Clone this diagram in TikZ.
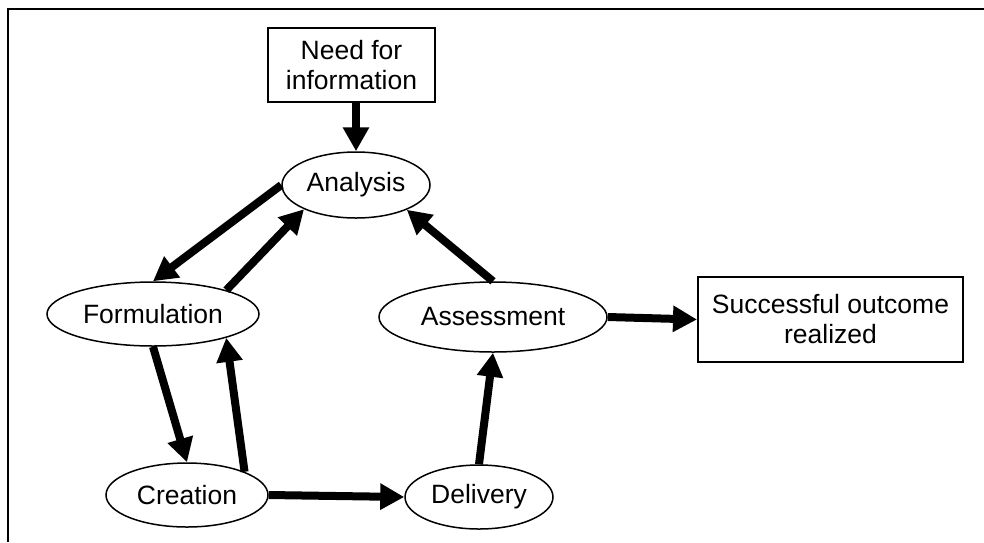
\documentclass[tikz,border=0pt]{standalone}
\usepackage{fontspec}
\setmainfont{Liberation Sans}
\usetikzlibrary{positioning,shapes.geometric,arrows.meta}

\begin{document}
\begin{tikzpicture}[
    x=1pt, y=-1pt,
    every node/.style={font=\fontsize{26.5}{30}\selectfont},
    stagenode/.style={ellipse, draw, line width=1.5pt, inner sep=0pt},
    boxnode/.style={rectangle, draw, line width=2pt, inner sep=0pt, align=center},
    flow/.style={line width=8pt, -{Triangle[length=24pt, width=25pt]}} % thick arrow, solid head
]

% --- Page and frame ---
\useasboundingbox (0,0) rectangle (984,542);
\draw[line width=2pt] (8,542) -- (8,9) -- (984,9);

% --- Boxes ---
\node[boxnode, minimum width=167pt, minimum height=74pt] (need) at (351.5,65) {Need for\\information};
\node[boxnode, minimum width=265pt, minimum height=85pt] (success) at (830.5,319.5) {Successful outcome\\realized};

% --- Stages of the cycle ---
\node[stagenode, minimum width=148pt, minimum height=66pt] (analysis) at (356,185) {Analysis};
\node[stagenode, minimum width=212pt, minimum height=64pt] (formulation) at (153,314) {Formulation};
\node[stagenode, minimum width=162pt, minimum height=64pt] (creation) at (187,495) {Creation};
\node[stagenode, minimum width=148pt, minimum height=64pt] (delivery) at (479,497) {Delivery};
\node[stagenode, minimum width=228pt, minimum height=70pt] (assessment) at (493,317) {Assessment};

% --- Arrows ---
\draw[flow] (analysis.north |- need.south) -- (analysis.north);
\foreach \a/\b in {analysis.180/formulation.north,
                   formulation.18/analysis.205,
                   assessment.north/analysis.334,
                   formulation.south/creation.north,
                   creation.22/formulation.342,
                   creation.east/delivery.west,
                   delivery.north/assessment.south,
                   assessment.east/success.west}{
  \draw[flow] (\a) -- (\b);
}

\end{tikzpicture}
\end{document}
